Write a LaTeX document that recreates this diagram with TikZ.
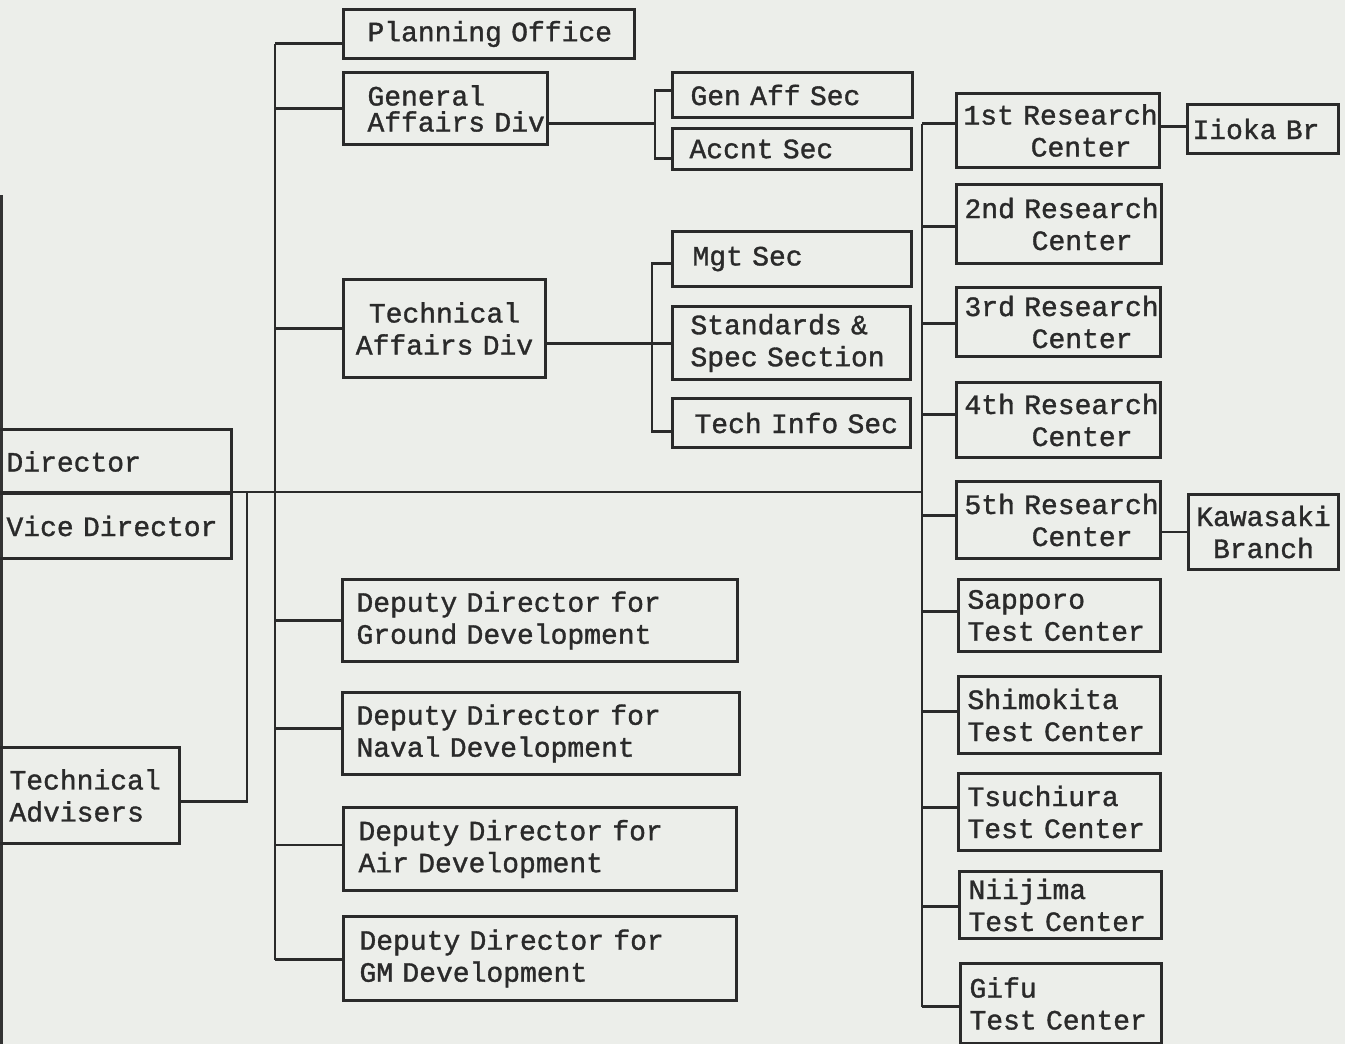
\documentclass[tikz,border=0pt]{standalone}
\usepackage{fontspec}
\setmainfont{Liberation Mono}[BoldFont={Liberation Mono}, BoldFeatures={FakeBold=1.2}]
\usetikzlibrary{calc}
\definecolor{paper}{RGB}{236,238,234}
\definecolor{ink}{RGB}{42,42,42}
\newcommand\indt[1]{\hspace*{#1\fontcharwd\font`M}}
\newcommand\nohyph{\hyphenpenalty=10000\exhyphenpenalty=10000\lefthyphenmin=64\righthyphenmin=64\hbadness=10000\hfuzz=100pt}
\begin{document}
\nohyph
\begin{tikzpicture}[x=1pt,y=-1pt,
  box/.style={draw=ink, line width=3pt, rectangle, anchor=north west, inner ysep=0pt,
    align=left, text=ink, font=\fontsize{28}{32}\selectfont\bfseries\nohyph},
  link/.style={draw=ink, line width=2.6pt}]
\fill[paper] (0,0) rectangle (1345,1044);
\useasboundingbox (0,0) rectangle (1345,1044);
\clip (0,0) rectangle (1345,1044);
\fill[black!80] (0,195) rectangle (2.5,1044);

% column coordinates
\coordinate (trunk) at (275,0);
\coordinate (rescol) at (922,0);
\coordinate (advcol) at (247,0);
\coordinate (ga) at (655,0);
\coordinate (ta) at (652,0);

% left
\node[box, minimum height=64pt, inner xsep=15pt, text width=210pt] (dir) at (-10,428) {Director};
\node[box, minimum height=65pt, inner xsep=15pt, text width=210pt] (vdir) at (-10,492) {Vice~Director};
\node[box, minimum height=96pt, inner xsep=18pt, text width=152pt] (adv) at (-10,746) {Technical\\Advisers};

% second column
\node[box, minimum height=49pt, inner xsep=24pt, text width=243pt] (plan) at (342,8) {Planning~Office};
\node[box, minimum height=72pt, inner xsep=24pt, text width=156pt, font=\fontsize{28}{26}\selectfont\bfseries\nohyph] (gad) at (342,71) {General\\Affairs~Div};
\node[box, minimum height=98pt, inner xsep=10pt, text width=182pt, align=center] (tad) at (342,278) {Technical\\Affairs~Div};
\node[box, minimum height=82pt, inner xsep=14pt, text width=367pt] (dgr) at (341,578) {Deputy~Director~for\\Ground~Development};
\node[box, minimum height=82pt, inner xsep=14pt, text width=369pt] (dnv) at (341,691) {Deputy~Director~for\\Naval~Development};
\node[box, minimum height=83pt, inner xsep=15pt, text width=363pt] (dair) at (342,806) {Deputy~Director~for\\Air~Development};
\node[box, minimum height=84pt, inner xsep=16pt, text width=361pt] (dgm) at (342,915) {Deputy~Director~for\\GM~Development};

% sections
\node[box, minimum height=45pt, inner xsep=18pt, text width=204pt] (gas) at (671,71) {Gen~Aff~Sec};
\node[box, minimum height=41pt, inner xsep=17pt, text width=205pt] (acs) at (671,127) {Accnt~Sec};
\node[box, minimum height=55pt, inner xsep=20pt, text width=199pt] (mgt) at (671,230) {Mgt~Sec};
\node[box, minimum height=73pt, inner xsep=18pt, text width=202pt] (std) at (671,305) {Standards~\&\\Spec~Section};
\node[box, minimum height=49pt, inner xsep=22pt, text width=194pt] (tis) at (671,397) {Tech~Info~Sec};

% research / test centers
\node[box, minimum height=74pt, inner xsep=7pt, text width=189pt] (r1) at (955,92) {1st~Research\\\indt{4}Center};
\node[box, minimum height=79pt, inner xsep=8pt, text width=189pt] (r2) at (955,183) {2nd~Research\\\indt{4}Center};
\node[box, minimum height=69pt, inner xsep=8pt, text width=188pt] (r3) at (955,286) {3rd~Research\\\indt{4}Center};
\node[box, minimum height=75pt, inner xsep=8pt, text width=188pt] (r4) at (955,381) {4th~Research\\\indt{4}Center};
\node[box, minimum height=77pt, inner xsep=8pt, text width=188pt] (r5) at (955,480) {5th~Research\\\indt{4}Center};
\node[box, minimum height=72pt, inner xsep=9pt, text width=184pt] (sap) at (957,578) {Sapporo\\Test~Center};
\node[box, minimum height=77pt, inner xsep=9pt, text width=184pt] (shi) at (957,675) {Shimokita\\Test~Center};
\node[box, minimum height=77pt, inner xsep=9pt, text width=184pt] (tsu) at (957,772) {Tsuchiura\\Test~Center};
\node[box, minimum height=67pt, inner xsep=9pt, text width=184pt] (nii) at (958,870) {Niijima\\Test~Center};
\node[box, minimum height=80pt, inner xsep=9pt, text width=183pt] (gif) at (959,962) {Gifu\\Test~Center};
\node[box, minimum height=49pt, inner xsep=5pt, text width=141pt] (iio) at (1186,103) {Iioka~Br};
\node[box, minimum height=75pt, inner xsep=5pt, text width=140pt, align=center] (kaw) at (1187,493) {Kawasaki\\Branch};

% trunk
\draw[link] ([yshift=-9.5pt]plan.west -| trunk) -- ([yshift=-1pt]dgm.west -| trunk);
\draw[link] ([yshift=-9.5pt]plan.west) -- ([yshift=-9.5pt]plan.west -| trunk);
\draw[link] (gad.west) -- (gad.west -| trunk);
\draw[link] (tad.west) -- (tad.west -| trunk);
\draw[link] (dgr.west) -- (dgr.west -| trunk);
\draw[link] ([yshift=5pt]dnv.west) -- ([yshift=5pt]dnv.west -| trunk);
\draw[link] ([yshift=4pt]dair.west) -- ([yshift=4pt]dair.west -| trunk);
\draw[link] ([yshift=-1pt]dgm.west) -- ([yshift=-1pt]dgm.west -| trunk);

% main horizontal line
\draw[link] (vdir.north west) -- (vdir.north west -| rescol);
% advisers
\draw[link] ([yshift=-6pt]adv.east) -| (vdir.north -| advcol);

% general affairs bracket
\draw[link] ([yshift=-15pt]gad.east) -- ([yshift=-15pt]gad.east -| ga);
\draw[link] ([yshift=4.5pt]gas.west) -| ([yshift=-9.5pt]acs.west -| ga) -- ([yshift=-9.5pt]acs.west);

% technical affairs bracket
\draw[link] ([yshift=-15pt]tad.east) -- ([yshift=-15pt]tad.east -| std.west);
\draw[link] ([yshift=-4.5pt]mgt.west) -| ([yshift=-8.5pt]tis.west -| ta) -- ([yshift=-8.5pt]tis.west);

% research column
\draw[link] ([yshift=7pt]r1.west -| rescol) -- ([yshift=-3pt]gif.west -| rescol);
\draw[link] ([yshift=7pt]r1.west) -- ([yshift=7pt]r1.west -| rescol);
\draw[link] ([yshift=-2.5pt]r2.west) -- ([yshift=-2.5pt]r2.west -| rescol);
\draw[link] ([yshift=-1.5pt]r3.west) -- ([yshift=-1.5pt]r3.west -| rescol);
\draw[link] ([yshift=5.5pt]r4.west) -- ([yshift=5.5pt]r4.west -| rescol);
\draw[link] ([yshift=4.5pt]r5.west) -- ([yshift=4.5pt]r5.west -| rescol);
\draw[link] ([yshift=4pt]sap.west) -- ([yshift=4pt]sap.west -| rescol);
\draw[link] ([yshift=3.5pt]shi.west) -- ([yshift=3.5pt]shi.west -| rescol);
\draw[link] ([yshift=4.5pt]tsu.west) -- ([yshift=4.5pt]tsu.west -| rescol);
\draw[link] ([yshift=-1.5pt]nii.west) -- ([yshift=-1.5pt]nii.west -| rescol);
\draw[link] ([yshift=-3pt]gif.west) -- ([yshift=-3pt]gif.west -| rescol);

% branches
\draw[link] ([yshift=2.5pt]iio.west) -- ([yshift=2.5pt]iio.west -| r1.east);
\draw[link] (kaw.west) -- (kaw.west -| r5.east);
\end{tikzpicture}
\end{document}
